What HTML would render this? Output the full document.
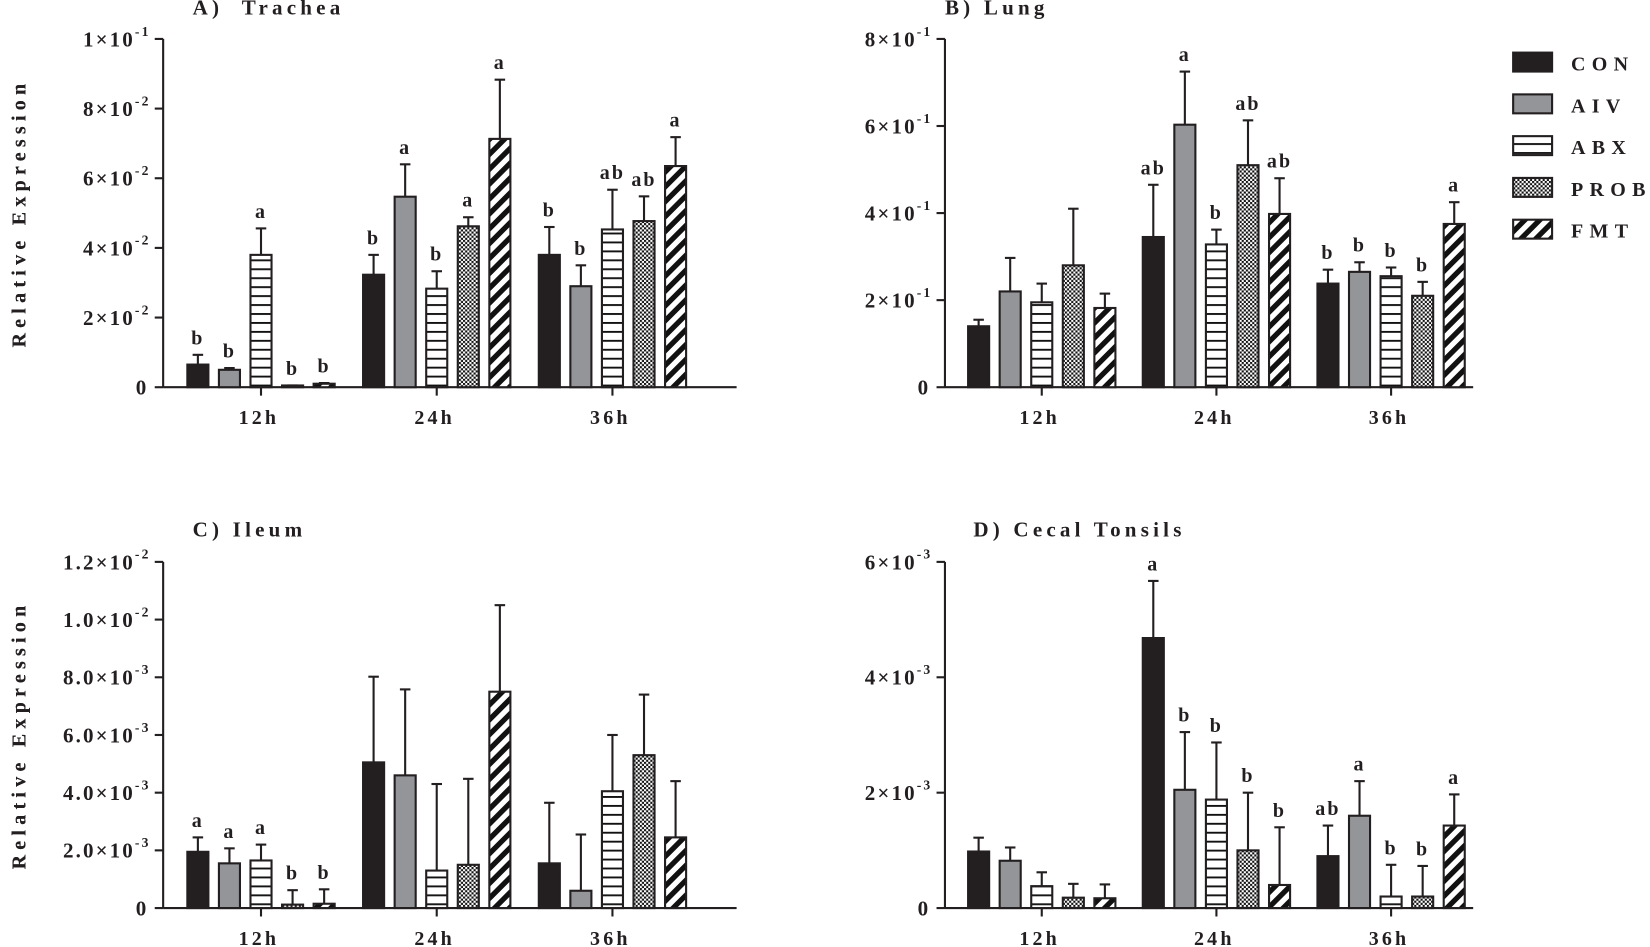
<!DOCTYPE html>
<html><head><meta charset="utf-8"><style>
html,body{margin:0;padding:0;background:#fff;}
svg{display:block;font-family:"Liberation Serif",serif;font-weight:bold;}
</style></head><body>
<svg id="s" width="1650" height="947" viewBox="0 0 1568 900" xmlns="http://www.w3.org/2000/svg">
<defs>
<pattern id="hl" patternUnits="userSpaceOnUse" width="8" height="8.5"><rect width="8" height="8.5" fill="#fff"/><rect y="0" width="8" height="1.8" fill="#111"/></pattern>
<pattern id="ck" patternUnits="userSpaceOnUse" width="4" height="4"><rect width="4" height="4" fill="#fff"/><rect width="2" height="2" fill="#111"/><rect x="2" y="2" width="2" height="2" fill="#111"/></pattern>
<pattern id="dg" patternUnits="userSpaceOnUse" width="10" height="10" patternTransform="rotate(45)"><rect width="10" height="10" fill="#fff"/><rect width="5" height="10" fill="#111"/></pattern>
</defs>
<g id="g"></g>
</svg>
<script>
const fills=['#231f20','#939598','url(#hl)','url(#ck)','url(#dg)'];
let out='';
function T(x,y,t,o){o=o||{};out+=`<text x="${x}" y="${y}" font-size="${o.fs||17}" text-anchor="${o.a||'middle'}" letter-spacing="${o.ls||2}" ${o.tr?'transform="'+o.tr+'"':''} fill="#231f20">${t}</text>`;}
function panel(p){
  const {ax,y0,ytop,xend,max,ticks,groups,data,letters,title,tx,ty}=p;
  const sc=(y0-ytop)/max;
  out+=`<line x1="${ax}" y1="${ytop}" x2="${ax}" y2="${y0}" stroke="#231f20" stroke-width="2"/>`;
  out+=`<line x1="${ax}" y1="${y0}" x2="${xend}" y2="${y0}" stroke="#231f20" stroke-width="2"/>`;
  ticks.forEach(t=>{const y=y0-t[0]*sc;out+=`<line x1="${ax-8}" y1="${y}" x2="${ax}" y2="${y}" stroke="#231f20" stroke-width="2"/>`;
    if(t[2]){out+=`<text x="${ax-12}" y="${y+7}" font-size="20" text-anchor="end" letter-spacing="2" fill="#231f20">${t[1]}<tspan dy="-10" font-size="13">${t[2]}</tspan></text>`;}
    else T(ax-14,y+7,t[1],{a:'end',fs:20});});
  groups.forEach((g,gi)=>{out+=`<line x1="${g}" y1="${y0}" x2="${g}" y2="${y0+8}" stroke="#231f20" stroke-width="2"/>`;
    T(g-2,y0+35,['12h','24h','36h'][gi],{fs:19,ls:3});
    data[gi].forEach((d,i)=>{const cx=g+(i-2)*30, h=d[0]*sc, ye=y0-d[1]*sc, yt=y0-h;
      out+=`<line x1="${cx}" y1="${yt}" x2="${cx}" y2="${ye}" stroke="#231f20" stroke-width="2"/><line x1="${cx-5}" y1="${ye}" x2="${cx+5}" y2="${ye}" stroke="#231f20" stroke-width="2"/>`;
      out+=`<rect x="${cx-10}" y="${yt}" width="20" height="${Math.max(h,1)}" fill="${fills[i]}" stroke="#231f20" stroke-width="2"/>`;
      const L=letters&&letters[gi]&&letters[gi][i]; if(L) T(cx,ye-10,L,{fs:19,ls:2});
    });});
  T(24,(ytop+y0)/2,'Relative Expression',{tr:`rotate(-90 24 ${(ytop+y0)/2})`,ls:5,fs:19});
  out+=`<text x="${tx}" y="${ty}" font-size="20" letter-spacing="4" fill="#231f20" xml:space="preserve">${title}</text>`;
}
const G1=[248,415,582],G2=[990,1156,1322];
panel({ax:155,y0:368,ytop:37,xend:700,max:.1,ticks:[[0,'0'],[.02,'2×10','-2'],[.04,'4×10','-2'],[.06,'6×10','-2'],[.08,'8×10','-2'],[.1,'1×10','-1']],groups:G1,
data:[[[.0065,.0093],[.005,.0055],[.038,.0456],[.0005,.0005],[.001,.0012]],[[.0323,.038],[.0547,.064],[.0283,.0333],[.0462,.0488],[.0713,.0883]],[[.038,.046],[.029,.035],[.0453,.0567],[.0477,.0548],[.0635,.0718]]],
letters:[['b','b','a','b','b'],['b','a','b','a','a'],['b','b','ab','ab','a']],title:'A)  Trachea',tx:183,ty:14});
panel({ax:898,y0:368,ytop:37,xend:1400,max:.8,ticks:[[0,'0'],[.2,'2×10','-1'],[.4,'4×10','-1'],[.6,'6×10','-1'],[.8,'8×10','-1']],groups:G2,
data:[[[.14,.155],[.22,.297],[.195,.238],[.28,.41],[.182,.215]],[[.345,.465],[.603,.725],[.328,.362],[.51,.613],[.398,.48]],[[.238,.27],[.265,.287],[.255,.275],[.21,.242],[.375,.425]]],
letters:[null,['ab','a','b','ab','ab'],['b','b','b','b','a']],title:'B) Lung',tx:898,ty:14});
panel({ax:155,y0:863,ytop:534,xend:700,max:12,ticks:[[0,'0'],[2,'2.0×10','-3'],[4,'4.0×10','-3'],[6,'6.0×10','-3'],[8,'8.0×10','-3'],[10,'1.0×10','-2'],[12,'1.2×10','-2']],groups:G1,
data:[[[1.95,2.45],[1.55,2.07],[1.65,2.2],[.12,.62],[.15,.65]],[[5.05,8.02],[4.6,7.58],[1.3,4.3],[1.5,4.48],[7.5,10.5]],[[1.55,3.65],[.6,2.55],[4.05,6.0],[5.3,7.4],[2.45,4.4]]],
letters:[['a','a','a','b','b']],title:'C) Ileum',tx:183,ty:510});
panel({ax:898,y0:863,ytop:534,xend:1400,max:6,ticks:[[0,'0'],[2,'2×10','-3'],[4,'4×10','-3'],[6,'6×10','-3']],groups:G2,
data:[[[.98,1.22],[.82,1.05],[.38,.62],[.18,.42],[.17,.41]],[[4.68,5.67],[2.05,3.05],[1.88,2.87],[1.0,2.0],[.4,1.4]],[[.9,1.43],[1.6,2.2],[.2,.75],[.2,.73],[1.43,1.97]]],
letters:[null,['a','b','b','b','b'],['ab','a','b','b','a']],title:'D) Cecal Tonsils',tx:925,ty:510});
['CON','AIV','ABX','PROB','FMT'].forEach((n,i)=>{const y=50+i*39.7;
 out+=`<rect x="1438" y="${y}" width="37" height="18" fill="${fills[i]}" stroke="#231f20" stroke-width="2"/>`;
 T(1493,y+17,n,{a:'start',fs:19,ls:6});});
document.getElementById('g').innerHTML=out;
</script>
</body></html>
